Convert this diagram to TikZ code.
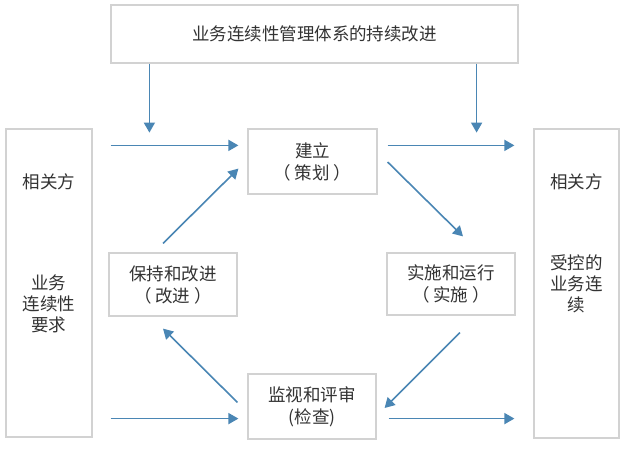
\documentclass[tikz,border=0pt]{standalone}
\usepackage{fontspec}
\setmainfont{Noto Sans CJK SC}
\usetikzlibrary{arrows.meta,calc}
\definecolor{arrowblue}{HTML}{4A86B4}
\definecolor{boxgray}{HTML}{D2D2D2}
\definecolor{txt}{HTML}{333333}
\tikzset{
  box/.style={draw=boxgray, line width=1.2pt, fill=white, inner sep=0pt, align=center,
    text=txt, font=\fontsize{17.5}{22}\selectfont},
  lbl/.style={text=txt, align=center},
  arr/.style={draw=arrowblue, line width=1.6pt, -{Triangle[length=10pt,width=11pt]}}
}
\begin{document}
\begin{tikzpicture}[x=1pt,y=-1pt]
\useasboundingbox (0,0) rectangle (630,454);
\fill[white] (0,0) rectangle (630,454);
\node[box, minimum width=407pt, minimum height=58pt] (T) at (314.5,34) {业务连续性管理体系的持续改进};
\node[box, minimum width=86pt, minimum height=308pt] (L) at (49,283) {};
\node[lbl, font=\fontsize{17.5}{22}\selectfont] (Lt1) at (49,182) {相关方};
\node[lbl, font=\fontsize{17.5}{21}\selectfont] (Lt2) at (49,304) {业务\\连续性\\要求};
\node[box, minimum width=85pt, minimum height=309pt] (R) at (576.5,283.5) {};
\node[lbl, font=\fontsize{17.5}{22}\selectfont] (Rt1) at (576.5,182) {相关方};
\node[lbl, font=\fontsize{17.5}{21}\selectfont] (Rt2) at (576.5,284) {受控的\\业务连\\续};
\node[box, minimum width=129pt, minimum height=65pt] (P) at (312.5,161.5) {建立\\（ 策划 ）};
\node[box, minimum width=128pt, minimum height=63pt] (I) at (173,284.5) {保持和改进\\（ 改进 ）};
\node[box, minimum width=128pt, minimum height=62pt] (D) at (451,284) {实施和运行\\（ 实施 ）};
\node[box, minimum width=128pt, minimum height=65pt] (C) at (312,406.5) {监视和评审\\(检查)};
% arrows
\draw[arr] ($(T.south west)+(39,0)$) -- ($(T.south west)+(39,69)$);
\draw[arr] ($(T.south east)+(-42,0)$) -- ($(T.south east)+(-42,69)$);
\draw[arr] ($(L.east|-P.north)+(18,17)$) -- ($(P.north west)+(-9,17)$);
\draw[arr] ($(P.north east)+(10,17)$) -- ($(R.west|-P.north)+(-19,17)$);
\draw[arr] ($(L.east|-C.south)+(18,-21)$) -- ($(C.south west)+(-9,-21)$);
\draw[arr] ($(C.south east)+(12,-21)$) -- ($(R.west|-C.south)+(-19,-21)$);
\draw[arr] ($(I.north)+(-10,-9)$) -- ($(P.south west)+(-9,-26)$);
\draw[arr] ($(C.north west)+(-10,29)$) -- ($(I.south)+(-10,12)$);
\draw[arr] ($(P.east)+(10,0.5)$) -- ($(D.north)+(12,-16)$);
\draw[arr] ($(D.south)+(9,17)$) -- ($(C.east)+(8,1.5)$);
\end{tikzpicture}
\end{document}
